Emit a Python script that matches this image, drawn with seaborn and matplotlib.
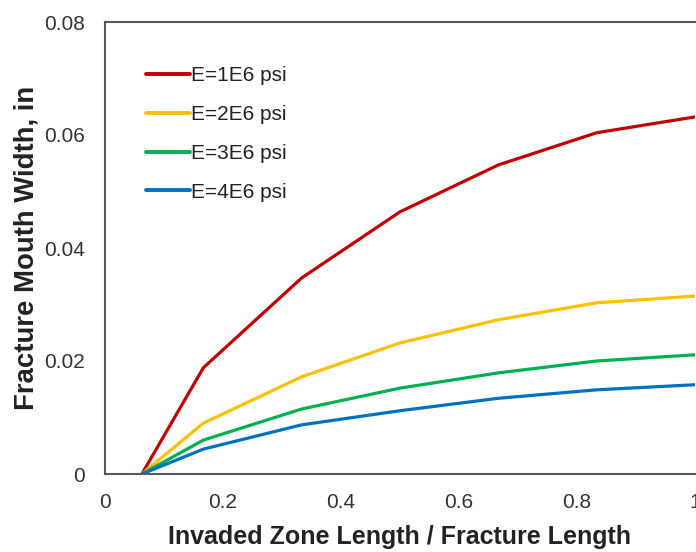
import numpy as np
import pandas as pd
import matplotlib
matplotlib.use("Agg")
import matplotlib.pyplot as plt
import seaborn as sns

# values
x_ratio = [0.0625, 1/6, 2/6, 3/6, 4/6, 5/6, 1.0]
w_e1 = [0.0, 0.0188, 0.0347, 0.0464, 0.0547, 0.0604, 0.0632]
w_e2 = [0.0, 0.0090, 0.0172, 0.0232, 0.0273, 0.0303, 0.0315]
w_e3 = [0.0, 0.0060, 0.0115, 0.0152, 0.0179, 0.0200, 0.0211]
w_e4 = [0.0, 0.0044, 0.0087, 0.0112, 0.0134, 0.0149, 0.0158]
labels = ["E=1E6 psi", "E=2E6 psi", "E=3E6 psi", "E=4E6 psi"]
colors = ["#C00000", "#FFC000", "#00B050", "#0070C0"]

x_ticks = [0, 0.2, 0.4, 0.6, 0.8, 1.0]
x_ticklabels = ["0", "0.2", "0.4", "0.6", "0.8", "1"]
y_ticks = [0, 0.02, 0.04, 0.06, 0.08]
y_ticklabels = ["0", "0.02", "0.04", "0.06", "0.08"]

rows = []
for lab, vals in zip(labels, [w_e1, w_e2, w_e3, w_e4]):
    for xv, yv in zip(x_ratio, vals):
        rows.append({"ratio": xv, "width": yv, "E": lab})
df = pd.DataFrame(rows)

sns.set_theme(style="white")
plt.rcParams['font.family'] = ['Liberation Sans', 'DejaVu Sans']

fig = plt.figure(figsize=(6.96, 5.52), dpi=100)
ax = fig.add_axes([105/696, 78/552, 590/696, 452/552])

sns.lineplot(data=df, x="ratio", y="width", hue="E", palette=dict(zip(labels, colors)),
             linewidth=2.3, ax=ax, estimator=None, sort=False)

ax.set_xlim(0, 1.0)
ax.set_ylim(0, 0.08)
ax.set_xticks(x_ticks)
ax.set_xticklabels(x_ticklabels)
ax.set_yticks(y_ticks)
ax.set_yticklabels(y_ticklabels)
ax.tick_params(direction="in", length=4, width=1.2, colors="#404040",
               labelsize=15, labelcolor="#333333")
ax.tick_params(axis="y", pad=14.5)
ax.tick_params(axis="x", pad=14)

for side in ["left", "bottom", "top"]:
    ax.spines[side].set_color("#595959")
    ax.spines[side].set_linewidth(1.5)
ax.spines["right"].set_visible(False)

ax.set_xlabel("Invaded Zone Length / Fracture Length", fontsize=18, fontweight="bold",
              color="#222222", labelpad=9)
ax.set_ylabel("Fracture Mouth Width, in", fontsize=19.8, fontweight="bold",
              color="#222222", labelpad=3.5)

leg = ax.legend(loc="upper left", bbox_to_anchor=(0.052, 0.925), frameon=False,
                fontsize=15, handlelength=2.1, handletextpad=0.05,
                labelspacing=0.95, borderpad=0, title=None)
for line in leg.get_lines():
    line.set_linewidth(2.8)
for t in leg.get_texts():
    t.set_color("#222222")

fig.savefig("out.png", dpi=100)
